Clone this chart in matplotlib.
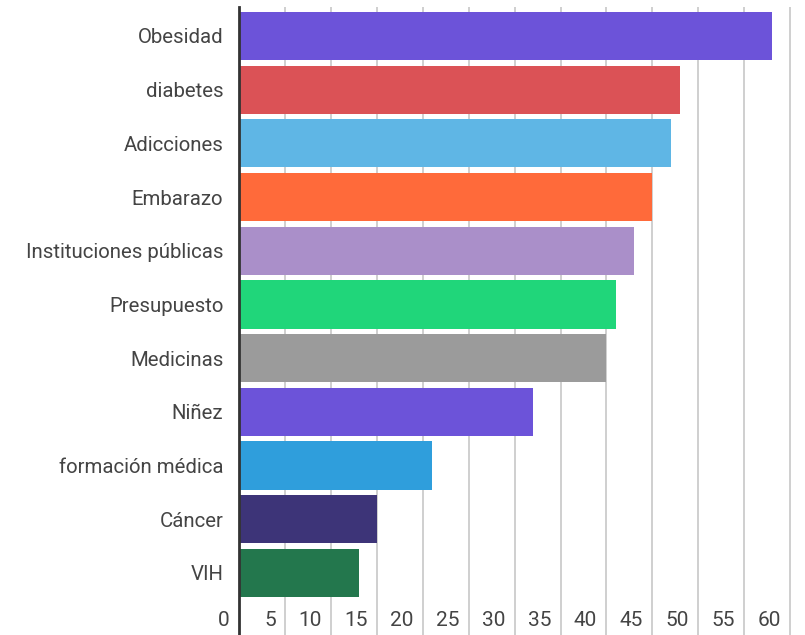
"""Horizontal bar chart of topics."""
import matplotlib.pyplot as plt
import matplotlib.transforms as mtransforms

plt.rcParams["font.family"] = ["Roboto", "DejaVu Sans"]

categories = [
    "Obesidad",
    "diabetes",
    "Adicciones",
    "Embarazo",
    "Instituciones públicas",
    "Presupuesto",
    "Medicinas",
    "Niñez",
    "formación médica",
    "Cáncer",
    "VIH",
]
values = [58, 48, 47, 45, 43, 41, 40, 32, 21, 15, 13]
colors = [
    "#6c53d9",
    "#db5256",
    "#5fb6e5",
    "#ff6a3a",
    "#aa8fc9",
    "#20d67a",
    "#9b9b9b",
    "#6c53d9",
    "#2f9edc",
    "#3d3478",
    "#23774d",
]
xticks = list(range(0, 61, 5))

W, H = 805, 635
fig = plt.figure(figsize=(W / 100, H / 100), dpi=100)
left, right, top, bottom = 239.3, 791.0, 7.0, 635.0
ax = fig.add_axes([left / W, 1 - bottom / H, (right - left) / W, (bottom - top) / H])

ypos = list(range(len(categories)))
ax.barh(ypos, values, height=0.9, color=colors, zorder=3)

ax.set_xlim(0, 60.1)
ax.set_ylim(len(categories) - 1 + 1.16, -0.54)

for s in ["top", "right", "bottom"]:
    ax.spines[s].set_visible(False)
ax.spines["left"].set_color("#333333")
ax.spines["left"].set_linewidth(2)
ax.spines["left"].set_zorder(4)

ax.set_xticks(xticks)
ax.set_xticklabels([])
ax.tick_params(axis="x", length=0)
ax.grid(axis="x", color="#cccccc", linewidth=1.3, zorder=0)

ax.set_yticks(ypos)
ax.set_yticklabels(categories, fontsize=14.7, color="#444444")
ax.tick_params(axis="y", length=0, pad=11.5)

# x labels sit inside the plot area, left of each gridline
trans = mtransforms.blended_transform_factory(ax.transData, ax.transAxes)
offset = mtransforms.ScaledTranslation(-9.5 / 100, 0, fig.dpi_scale_trans)
for t in xticks:
    ax.text(t, (bottom - 620) / (bottom - top), str(t), transform=trans + offset,
            ha="right", va="center", fontsize=15, color="#444444")

fig.savefig("out.png", dpi=100)
